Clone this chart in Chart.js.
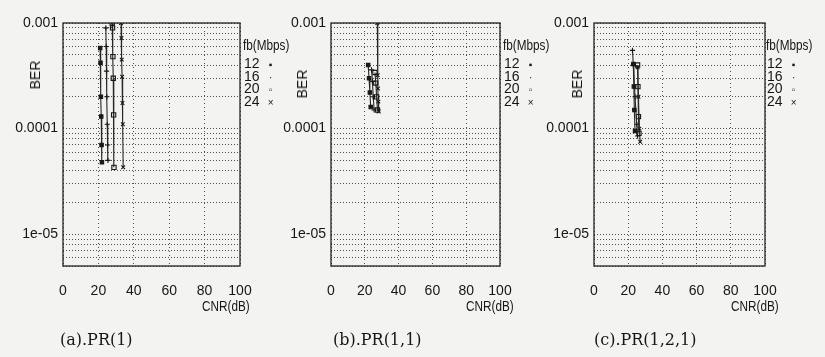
<!DOCTYPE html>
<html>
<head>
<meta charset="utf-8">
<script src="https://cdn.jsdelivr.net/npm/chart.js@4.4.1/dist/chart.umd.min.js"></script>
<style>
  html, body { margin: 0; padding: 0; background: #f3f3f1; }
  #page { position: relative; width: 825px; height: 357px; overflow: hidden; background: #f3f3f1;
          font-family: "Liberation Sans", Arial, sans-serif; color: #161616; }
  .panel { position: absolute; top: 0; }
  .panel canvas { display: block; }
  .t { position: absolute; white-space: nowrap; font-size: 14px; line-height: 14px; }
  .narrow { transform: scaleX(0.84); transform-origin: 0 0; }
  .ylab { transform: translate(-50%, -50%) rotate(-90deg); }
  .cap { font-family: "DejaVu Serif", "Liberation Serif", serif; font-size: 16px; line-height: 16px; }
  .mk { display: inline-block; width: 10px; text-align: center; font-size: 10px; margin-left: 6px; }
</style>
</head>
<body>
<div id="page"></div>
<script>
// ---- data -------------------------------------------------------------
const fbRates = ['12', '16', '20', '24'];
const cnrTicks = [0, 20, 40, 60, 80, 100];
const berGrid = [5e-6, 6e-6, 7e-6, 8e-6, 9e-6,
                 1e-5, 2e-5, 3e-5, 4e-5, 5e-5, 6e-5, 7e-5, 8e-5, 9e-5,
                 1e-4, 2e-4, 3e-4, 4e-4, 5e-4, 6e-4, 7e-4, 8e-4, 9e-4, 1e-3];
const berLabelValues = [1e-3, 1e-4, 1e-5];
const berLabelText = ['0.001', '0.0001', '1e-05'];
const captions = ['(a).PR(1)', '(b).PR(1,1)', '(c).PR(1,2,1)'];

// PR(1)
const pr1Cnr12 = [21.0, 21.2, 21.4, 21.6, 21.8, 22.0];
const pr1Ber12 = [5.8e-4, 4.2e-4, 2.0e-4, 1.3e-4, 7.0e-5, 4.8e-5];
const pr1Cnr16 = [24.2, 24.4, 24.6, 24.8, 25.0, 25.2, 25.4];
const pr1Ber16 = [9.0e-4, 6.0e-4, 3.5e-4, 2.0e-4, 1.1e-4, 7.0e-5, 5.0e-5];
const pr1Cnr20 = [27.8, 28.0, 28.2, 28.4, 28.6, 28.8];
const pr1Ber20 = [1.0e-3, 9.0e-4, 4.8e-4, 3.0e-4, 1.35e-4, 4.3e-5];
const pr1Cnr24 = [32.8, 33.0, 33.2, 33.4, 33.6, 33.8, 34.0];
const pr1Ber24 = [1.0e-3, 7.2e-4, 4.5e-4, 3.1e-4, 1.75e-4, 1.1e-4, 4.3e-5];

// PR(1,1)
const pr11Cnr12 = [22.0, 22.5, 23.0, 23.5];
const pr11Ber12 = [4.0e-4, 3.0e-4, 2.2e-4, 1.6e-4];
const pr11Cnr16 = [24.0, 24.5, 25.0, 25.5];
const pr11Ber16 = [3.6e-4, 2.8e-4, 2.0e-4, 1.5e-4];
const pr11Cnr20 = [26.0, 26.5, 27.0, 27.5];
const pr11Ber20 = [3.4e-4, 2.7e-4, 2.0e-4, 1.5e-4];
const pr11Cnr24 = [27.4, 27.6, 27.8, 28.0, 28.2];
const pr11Ber24 = [1.0e-3, 3.2e-4, 2.4e-4, 1.8e-4, 1.45e-4];

// PR(1,2,1)
const pr121Cnr12 = [23.0, 23.3, 23.6, 24.0];
const pr121Ber12 = [4.1e-4, 2.5e-4, 1.5e-4, 9.5e-5];
const pr121Cnr16 = [22.5, 23.0, 24.0, 25.0, 25.5];
const pr121Ber16 = [5.5e-4, 4.0e-4, 2.0e-4, 1.1e-4, 8.5e-5];
const pr121Cnr20 = [25.5, 25.7, 26.0, 26.3];
const pr121Ber20 = [4.0e-4, 2.5e-4, 1.3e-4, 9.0e-5];
const pr121Cnr24 = [25.5, 26.0, 26.5, 27.0];
const pr121Ber24 = [3.8e-4, 2.0e-4, 1.0e-4, 7.5e-5];

// ---- drawing ----------------------------------------------------------
const pointStyles = ['rect', 'cross', 'rect', 'crossRot'];
const pointFills = ['#1a1a1a', '#1a1a1a', 'rgba(0,0,0,0)', '#1a1a1a'];
const pointSizes = [2.4, 2.6, 3.0, 2.6];
const legendMarks = ['\u25AA', '\u00B7', '\u25AB', '\u00D7'];

const panels = [
  { left: 0,   width: 256, plotLeft: 63,  plotRight: 240,
    series: [[pr1Cnr12, pr1Ber12], [pr1Cnr16, pr1Ber16], [pr1Cnr20, pr1Ber20], [pr1Cnr24, pr1Ber24]],
    berX: 35, berY: 75, cnrRight: 250, legX: 243, capX: 60 },
  { left: 268, width: 248, plotLeft: 331, plotRight: 500,
    series: [[pr11Cnr12, pr11Ber12], [pr11Cnr16, pr11Ber16], [pr11Cnr20, pr11Ber20], [pr11Cnr24, pr11Ber24]],
    berX: 302, berY: 84, cnrRight: 514, legX: 503, capX: 333 },
  { left: 531, width: 250, plotLeft: 594, plotRight: 765,
    series: [[pr121Cnr12, pr121Ber12], [pr121Cnr16, pr121Ber16], [pr121Cnr20, pr121Ber20], [pr121Cnr24, pr121Ber24]],
    berX: 577, berY: 84, cnrRight: 779, legX: 766, capX: 594 }
];

const PLOT_TOP = 23, PLOT_BOTTOM = 266, CANVAS_H = 300;

const framePlugin = {
  id: 'frame',
  afterDraw(chart) {
    const { ctx, chartArea: a } = chart;
    ctx.save();
    ctx.strokeStyle = '#222';
    ctx.lineWidth = 1.3;
    ctx.strokeRect(a.left, a.top, a.right - a.left, a.bottom - a.top);
    ctx.restore();
  }
};

function berLabel(v) {
  for (let i = 0; i < berLabelValues.length; i++) {
    if (Math.abs(v / berLabelValues[i] - 1) < 1e-6) return berLabelText[i];
  }
  return '';
}

const page = document.getElementById('page');

function addText(cls, text, styles) {
  const d = document.createElement('div');
  d.className = 't ' + cls;
  d.textContent = text;
  Object.assign(d.style, styles);
  page.appendChild(d);
  return d;
}

panels.forEach((p, idx) => {
  const box = document.createElement('div');
  box.className = 'panel';
  box.style.left = p.left + 'px';
  box.style.width = p.width + 'px';
  box.style.height = CANVAS_H + 'px';
  const cv = document.createElement('canvas');
  cv.width = p.width;
  cv.height = CANVAS_H;
  cv.style.width = p.width + 'px';
  cv.style.height = CANVAS_H + 'px';
  box.appendChild(cv);
  page.appendChild(box);

  const yAxisWidth = p.plotLeft - p.left;
  const padRight = p.width - (p.plotRight - p.left);

  const datasets = p.series.map((s, i) => ({
    label: fbRates[i],
    data: s[0].map((x, k) => ({ x: x, y: s[1][k] })),
    showLine: true,
    borderColor: '#262626',
    borderWidth: 1.1,
    pointStyle: pointStyles[i],
    pointRadius: pointSizes[i],
    pointBackgroundColor: pointFills[i],
    pointBorderColor: '#161616',
    pointBorderWidth: 1.1,
    tension: 0
  }));

  new Chart(cv, {
    type: 'scatter',
    data: { datasets },
    options: {
      responsive: false,
      animation: false,
      devicePixelRatio: 1,
      events: [],
      layout: { padding: { top: PLOT_TOP, right: padRight, left: 0, bottom: 0 } },
      plugins: { legend: { display: false }, tooltip: { enabled: false } },
      scales: {
        x: {
          type: 'linear', min: cnrTicks[0], max: cnrTicks[cnrTicks.length - 1],
          afterBuildTicks: sc => { sc.ticks = cnrTicks.map(v => ({ value: v })); },
          afterFit: sc => { sc.height = CANVAS_H - PLOT_BOTTOM; },
          grid: { color: '#4e4e4e', lineWidth: 1, drawTicks: true, tickLength: 14, tickColor: 'rgba(0,0,0,0)' },
          border: { display: false, dash: [1, 3] },
          ticks: { color: '#161616', padding: 3, maxRotation: 0, autoSkip: false,
                   font: { family: '"Liberation Sans", Arial, sans-serif', size: 14 } }
        },
        y: {
          type: 'logarithmic', min: berGrid[0], max: berGrid[berGrid.length - 1],
          afterBuildTicks: sc => { sc.ticks = berGrid.map(v => ({ value: v })); },
          afterFit: sc => { sc.width = yAxisWidth; },
          grid: { color: '#4e4e4e', lineWidth: 1, drawTicks: false },
          border: { display: false, dash: [1, 2] },
          ticks: { color: '#161616', padding: 5, autoSkip: false, callback: v => berLabel(v),
                   font: { family: '"Liberation Sans", Arial, sans-serif', size: 14 } }
        }
      }
    },
    plugins: [framePlugin]
  });

  // axis titles, legend and caption
  addText('ylab', 'BER', { left: p.berX + 'px', top: p.berY + 'px' });
  const cnr = addText('narrow', 'CNR(dB)', { top: '299px' });
  cnr.style.left = (p.cnrRight - cnr.offsetWidth * 0.84) + 'px';
  addText('narrow', 'fb(Mbps)', { left: p.legX + 'px', top: '38px' });
  fbRates.forEach((r, i) => {
    const row = addText('', '', { left: (p.legX + 1) + 'px', top: (56 + i * 12.5) + 'px' });
    row.textContent = r;
    const m = document.createElement('span');
    m.className = 'mk';
    m.textContent = legendMarks[i];
    row.appendChild(m);
  });
  addText('cap', captions[idx], { left: p.capX + 'px', top: '332px' });
});
</script>
</body>
</html>
